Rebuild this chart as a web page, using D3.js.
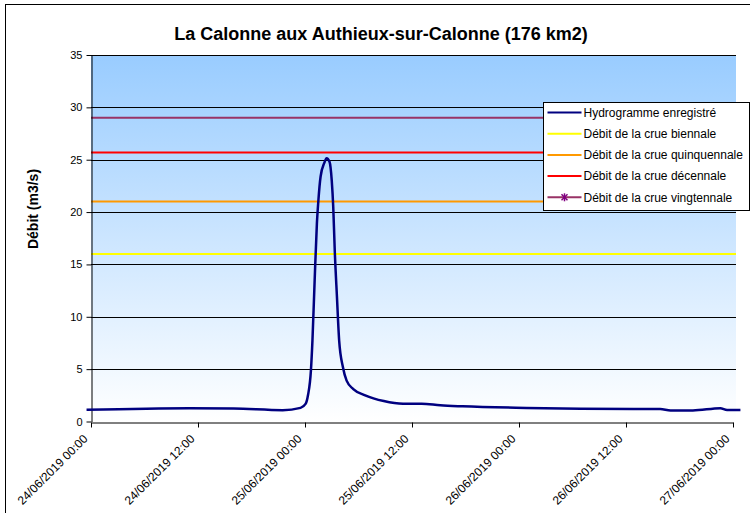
<!DOCTYPE html>
<html>
<head>
<meta charset="utf-8">
<script src="https://cdn.jsdelivr.net/npm/d3@7"></script>
<style>
  body { margin: 0; background: #fff; }
  svg { font-family: "Liberation Sans", Arial, sans-serif; }
</style>
</head>
<body>
<div id="chart"></div>
<script>
// recorded hydrograph (time, m3/s)
var times = ["23/06/2019 23:30", "24/06/2019 11:00", "24/06/2019 16:00", "24/06/2019 21:30", "24/06/2019 23:30",
  "25/06/2019 00:05", "25/06/2019 00:20", "25/06/2019 00:40", "25/06/2019 00:50", "25/06/2019 01:05",
  "25/06/2019 01:20", "25/06/2019 01:30", "25/06/2019 01:45", "25/06/2019 02:10", "25/06/2019 02:25",
  "25/06/2019 02:45", "25/06/2019 03:00", "25/06/2019 03:10", "25/06/2019 03:20", "25/06/2019 03:35",
  "25/06/2019 03:50", "25/06/2019 04:15", "25/06/2019 04:40", "25/06/2019 05:25", "25/06/2019 06:45",
  "25/06/2019 08:50", "25/06/2019 11:00", "25/06/2019 13:05", "25/06/2019 15:10", "25/06/2019 17:40",
  "26/06/2019 00:50", "26/06/2019 12:50", "26/06/2019 15:50", "26/06/2019 17:00", "26/06/2019 19:30",
  "26/06/2019 22:35", "26/06/2019 23:20", "27/06/2019 00:50"];
var flows = [1.12, 1.27, 1.24, 1.08, 1.3,
  1.7, 2.5, 4.9, 7.7, 13.5,
  18.9, 21.1, 23.4, 24.7, 25.15,
  24.8, 23.0, 20.5, 16.4, 11.9,
  7.7, 5.2, 3.9, 3.1, 2.5,
  1.95, 1.7, 1.7, 1.55, 1.45,
  1.3, 1.2, 1.2, 1.05, 1.05,
  1.27, 1.1, 1.1];

// flood reference discharges
var floodNames = ["Débit de la crue biennale", "Débit de la crue quinquennale", "Débit de la crue décennale", "Débit de la crue vingtennale"];
var floodValues = [16, 21, 25.7, 29];
var floodColors = ["#FFFF00", "#FF9900", "#FF0000", "#993366"];

var xTicks = ["24/06/2019 00:00", "24/06/2019 12:00", "25/06/2019 00:00", "25/06/2019 12:00",
  "26/06/2019 00:00", "26/06/2019 12:00", "27/06/2019 00:00"];
var yTicks = [0, 5, 10, 15, 20, 25, 30, 35];

var parse = d3.timeParse("%d/%m/%Y %H:%M");
var fmt = d3.timeFormat("%d/%m/%Y %H:%M");

var width = 750, height = 513;
var plotLeft = 91, plotRight = 733, plotTop = 55, plotBottom = 421.5;

var svg = d3.select("#chart").append("svg")
    .attr("width", width)
    .attr("height", height);

// outer frame
svg.append("rect")
    .attr("x", 5.5).attr("y", 4.5)
    .attr("width", 760).attr("height", 520)
    .attr("fill", "#fff")
    .attr("stroke", "#000");

var x = d3.scaleTime()
    .domain([parse(xTicks[0]), parse(xTicks[xTicks.length - 1])])
    .range([plotLeft, plotRight]);

var y = d3.scaleLinear()
    .domain([0, 35])
    .range([plotBottom, plotTop]);

var grad = svg.append("defs").append("linearGradient")
    .attr("id", "bg")
    .attr("x1", 0).attr("y1", 0).attr("x2", 0).attr("y2", 1);
grad.append("stop").attr("offset", "0%").attr("stop-color", "#99CCFF");
grad.append("stop").attr("offset", "100%").attr("stop-color", "#FFFFFF");

svg.append("rect")
    .attr("x", plotLeft).attr("y", plotTop)
    .attr("width", plotRight - plotLeft + 3).attr("height", plotBottom - plotTop)
    .attr("fill", "url(#bg)");

// grid lines
svg.append("g").selectAll("line")
    .data(yTicks.slice(1))
    .enter().append("line")
    .attr("x1", plotLeft).attr("x2", plotRight + 3)
    .attr("y1", function(d) { return Math.round(y(d)) + 0.5; })
    .attr("y2", function(d) { return Math.round(y(d)) + 0.5; })
    .attr("stroke", "#000")
    .attr("stroke-width", 1);

// flood thresholds
svg.append("g").selectAll("line")
    .data(floodValues)
    .enter().append("line")
    .attr("x1", plotLeft).attr("x2", plotRight + 3)
    .attr("y1", function(d) { return y(d); })
    .attr("y2", function(d) { return y(d); })
    .attr("stroke", function(d, i) { return floodColors[i]; })
    .attr("stroke-width", 2);

// axes
var yAxis = d3.axisLeft(y).tickValues(yTicks).tickSize(5).tickPadding(4).tickSizeOuter(0);
var gy = svg.append("g")
    .attr("transform", "translate(" + (plotLeft + 0.5) + ",0)")
    .call(yAxis);
gy.select(".domain").attr("stroke", "#000");
gy.selectAll("text").attr("font-size", "11px").attr("fill", "#000");

var xAxis = d3.axisBottom(x)
    .tickValues(xTicks.map(parse))
    .tickFormat(fmt)
    .tickSize(5)
    .tickSizeOuter(0);
var gx = svg.append("g")
    .attr("transform", "translate(0," + (Math.round(plotBottom) + 0.5) + ")")
    .call(xAxis);
gx.select(".domain").attr("stroke", "#000");
gx.selectAll("text")
    .attr("font-size", "12px")
    .attr("fill", "#000")
    .attr("text-anchor", "end")
    .attr("dy", "0.35em")
    .attr("transform", "translate(-6,14) rotate(-45)")
    .attr("x", 0).attr("y", 0);

// hydrograph
var line = d3.line()
    .x(function(d) { return x(d.t); })
    .y(function(d) { return y(d.v); })
    .curve(d3.curveMonotoneX);

var series = times.map(function(t, i) { return { t: parse(t), v: flows[i] }; });

svg.append("path")
    .datum(series)
    .attr("d", line)
    .attr("fill", "none")
    .attr("stroke", "#000080")
    .attr("stroke-width", 2.5);

// title
svg.append("text")
    .attr("x", 381).attr("y", 40)
    .attr("text-anchor", "middle")
    .attr("font-size", "18px")
    .attr("font-weight", "bold")
    .text("La Calonne aux Authieux-sur-Calonne (176 km2)");

svg.append("text")
    .attr("transform", "translate(38,209) rotate(-90)")
    .attr("text-anchor", "middle")
    .attr("font-size", "14px")
    .attr("font-weight", "bold")
    .text("Débit (m3/s)");

// legend
var legNames = ["Hydrogramme enregistré"].concat(floodNames);
var legColors = ["#000080"].concat(floodColors);

var legend = svg.append("g").attr("transform", "translate(543.5,102.5)");
legend.append("rect")
    .attr("width", 206).attr("height", 108)
    .attr("fill", "#fff")
    .attr("stroke", "#000");

var items = legend.selectAll(".item")
    .data(legNames)
    .enter().append("g")
    .attr("class", "item")
    .attr("transform", function(d, i) { return "translate(0," + (10 + i * 21.2) + ")"; });

items.append("line")
    .attr("x1", 4).attr("x2", 38)
    .attr("stroke", function(d, i) { return legColors[i]; })
    .attr("stroke-width", 2);

items.append("text")
    .attr("x", 40).attr("dy", "0.35em")
    .attr("font-size", "12px")
    .text(function(d) { return d; });

// asterisk marker for the vingtennale entry
var star = legend.append("g").attr("transform", "translate(21," + (10 + 4 * 21.2) + ")");
[[-3, -3, 3, 3], [-3, 3, 3, -3], [0, -4, 0, 4]].forEach(function(s) {
    star.append("line")
        .attr("x1", s[0]).attr("y1", s[1]).attr("x2", s[2]).attr("y2", s[3])
        .attr("stroke", "#800080").attr("stroke-width", 1.5);
});
</script>
</body>
</html>
